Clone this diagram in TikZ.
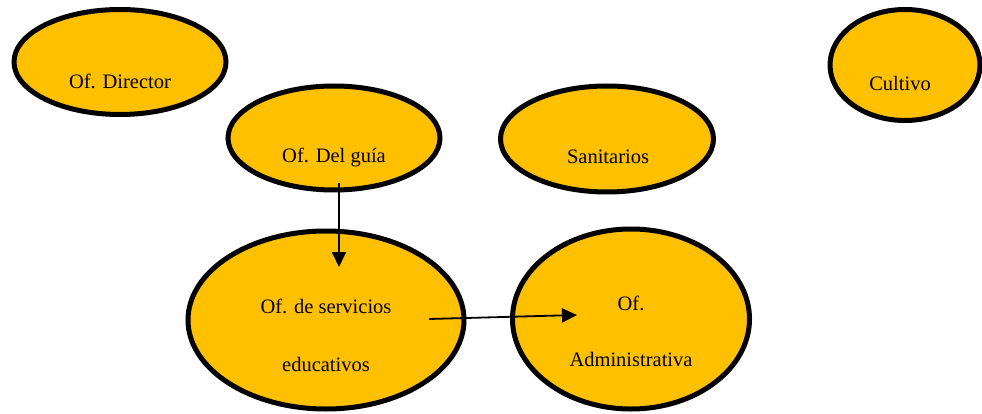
\documentclass[tikz,border=0pt]{standalone}
\usepackage{fontspec}
\setmainfont{Liberation Serif}
\usetikzlibrary{shapes.geometric,arrows.meta}
\definecolor{gold}{HTML}{FFC000}
\tikzset{
  oval/.style={ellipse, draw=black, fill=gold, line width=5pt, inner sep=0pt},
  lbl/.style={inner sep=0pt, anchor=center, font=\fontsize{20.5}{24}\selectfont},
  conn/.style={line width=1.8pt, -{Triangle[length=15pt,width=14pt]}}
}
\begin{document}
\begin{tikzpicture}[x=1pt,y=-1pt]
\useasboundingbox (0,0) rectangle (982,414);
\node[oval, minimum width=212pt, minimum height=105pt] (dir) at (120,62) {};
\node[oval, minimum width=212pt, minimum height=104pt] (guia) at (334,138) {};
\node[oval, minimum width=213pt, minimum height=106pt] (san) at (607,139) {};
\node[oval, minimum width=150pt, minimum height=111pt] (cul) at (905,65) {};
\node[oval, minimum width=276pt, minimum height=178pt] (serv) at (326,320) {};
\node[oval, minimum width=237pt, minimum height=180pt] (adm) at (631,319) {};
\node[lbl] (tdir) at (120,81) {Of. Director};
\node[lbl] (tguia) at (334,157) {Of. Del guía};
\node[lbl] (tsan) at (608,157) {Sanitarios};
\node[lbl] (tcul) at (900,83) {Cultivo};
\node[lbl] (tserv1) at (326,306) {Of. de servicios};
\node[lbl] (tserv2) at (326,364) {educativos};
\node[lbl] (tadm1) at (631,303) {Of.};
\node[lbl] (tadm2) at (631,359) {Administrativa};
\coordinate (a1s) at (339,183);
\coordinate (a1e) at (339,267);
\coordinate (a2s) at (429,319);
\coordinate (a2e) at (577,315);
\draw[conn] (a1s) -- (a1e);
\draw[conn] (a2s) -- (a2e);
\end{tikzpicture}
\end{document}
